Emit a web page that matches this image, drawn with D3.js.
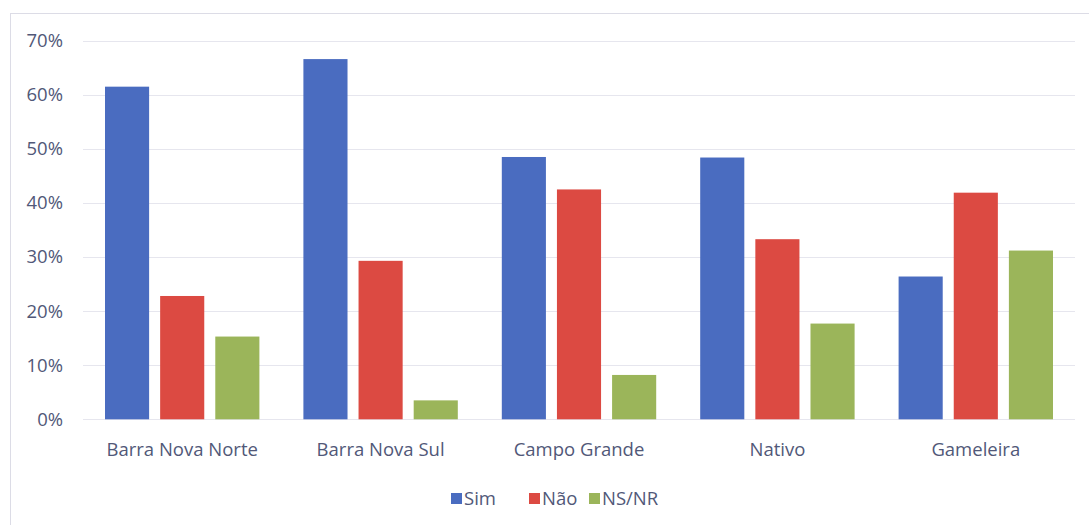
<!DOCTYPE html>
<html>
<head>
<meta charset="utf-8">
<script src="https://cdn.jsdelivr.net/npm/d3@7"></script>
<style>
  body { margin: 0; background: #fff; }
  svg { display: block; }
  text { font-family: "Open Sans", sans-serif; fill: #515878; }
</style>
</head>
<body>
<svg width="1089" height="525"></svg>
<script>
var width = 1089, height = 525;

var categories = ["Barra Nova Norte", "Barra Nova Sul", "Campo Grande", "Nativo", "Gameleira"];
var seriesNames = ["Sim", "Não", "NS/NR"];
var sim = [0.615, 0.666, 0.485, 0.484, 0.264];
var nao = [0.228, 0.293, 0.425, 0.333, 0.419];
var nsnr = [0.153, 0.035, 0.082, 0.177, 0.312];
var yTicks = [0, 0.1, 0.2, 0.3, 0.4, 0.5, 0.6, 0.7];
var colors = ["#4a6cc0", "#dc4a42", "#9bb55a"];

var values = [sim, nao, nsnr];
var data = categories.map(function(c, i) {
  return { name: c, vals: seriesNames.map(function(s, j) { return { key: s, value: values[j][i] }; }) };
});

var svg = d3.select('svg');

// outer chart border
svg.append('rect')
  .attr('x', 10.5).attr('y', 13.5)
  .attr('width', 1100).attr('height', 540)
  .attr('fill', 'none')
  .attr('stroke', '#dcdce6');

var x0 = d3.scaleBand()
  .domain(categories)
  .range([83, 1075]);

var x1 = d3.scaleBand()
  .domain(seriesNames)
  .range([22, x0.bandwidth() - 22])
  .paddingInner(0.2);

var y = d3.scaleLinear()
  .domain([0, 0.7])
  .range([419.3, 40.7]);

var color = d3.scaleOrdinal().domain(seriesNames).range(colors);

// gridlines
svg.append('g')
  .selectAll('line')
  .data(yTicks)
  .enter()
  .append('line')
  .attr('x1', 83).attr('x2', 1075)
  .attr('y1', function(d) { return Math.round(y(d)) + 0.5; })
  .attr('y2', function(d) { return Math.round(y(d)) + 0.5; })
  .attr('stroke', '#e6e6ee');

// y axis labels
var yAxis = d3.axisLeft(y)
  .tickValues(yTicks)
  .tickFormat(d3.format('.0%'))
  .tickSize(0)
  .tickPadding(0);

svg.append('g')
  .attr('transform', 'translate(63,0)')
  .call(yAxis)
  .call(function(g) { g.select('.domain').remove(); })
  .selectAll('text')
  .attr('font-size', 18.5)
  .style('font-family', '"Open Sans", sans-serif')
  .attr('fill', '#515878');

// bars
var groups = svg.append('g')
  .selectAll('g')
  .data(data)
  .enter()
  .append('g')
  .attr('transform', function(d) { return 'translate(' + x0(d.name) + ',0)'; });

groups.selectAll('rect')
  .data(function(d) { return d.vals; })
  .enter()
  .append('rect')
  .attr('x', function(d) { return x1(d.key); })
  .attr('width', x1.bandwidth())
  .attr('y', function(d) { return y(d.value); })
  .attr('height', function(d) { return y(0) - y(d.value); })
  .style('fill', function(d) { return color(d.key); });

// x axis labels
var xAxis = d3.axisBottom(x0).tickSize(0).tickPadding(0);
svg.append('g')
  .attr('transform', 'translate(0,0)')
  .call(xAxis)
  .call(function(g) { g.select('.domain').remove(); })
  .selectAll('text')
  .attr('y', 456)
  .attr('dy', null)
  .attr('font-size', 18.5)
  .style('font-family', '"Open Sans", sans-serif')
  .attr('fill', '#515878');

// legend
var legendX = [451, 529, 589];
var legend = svg.append('g')
  .selectAll('g')
  .data(seriesNames)
  .enter()
  .append('g')
  .attr('transform', function(d, i) { return 'translate(' + legendX[i] + ',493)'; });

legend.append('rect')
  .attr('width', 11).attr('height', 11)
  .attr('y', 0)
  .style('fill', function(d) { return color(d); });

legend.append('text')
  .attr('x', 13)
  .attr('y', 12)
  .attr('font-size', 18.5)
  .text(function(d) { return d; });
</script>
</body>
</html>
